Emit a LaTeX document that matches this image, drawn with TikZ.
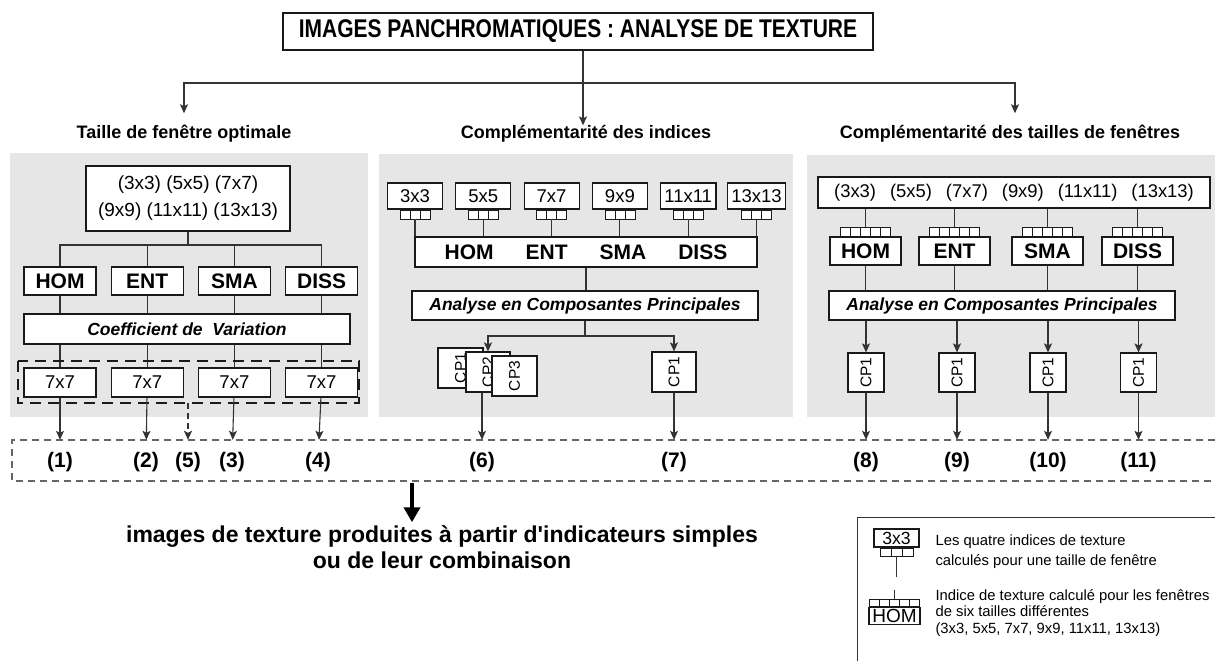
\documentclass[tikz,border=0pt]{standalone}
\usepackage{fontspec}
\usepackage{graphicx}
\setmainfont{Liberation Sans}
\newfontfamily\etroite[FakeStretch=0.82]{Liberation Sans}
\usetikzlibrary{positioning,arrows.meta}
\definecolor{fond}{HTML}{E6E6E6}
\definecolor{trait}{HTML}{333333}
\definecolor{tiret}{HTML}{666666}

\begin{document}
\begin{tikzpicture}[x=1pt, y=-1pt, node distance=14pt,
    boite/.style={draw=black!90, fill=white, line width=1.2pt, inner sep=0pt},
    indice/.style={boite, font=\bfseries\fontsize{21}{25}\selectfont, minimum width=72pt, minimum height=28pt},
    taille/.style={boite, font=\fontsize{18.5}{22}\selectfont, minimum width=55pt, minimum height=26pt, inner xsep=4pt},
    fenetre/.style={boite, font=\fontsize{18.5}{22}\selectfont, minimum width=72pt, minimum height=29pt},
    acp/.style={boite, font=\bfseries\itshape\fontsize{17.5}{21}\selectfont, minimum width=346pt, minimum height=29pt},
    cp/.style={boite, font=\fontsize{15.5}{18}\selectfont},
    onglet/.style n args={2}{draw=black!90, fill=white, line width=0.8pt, inner sep=0pt,
      minimum width=#1*#2, minimum height=9pt,
      path picture={\foreach \k in {1,...,#1}{\draw[black!90, line width=0.8pt]
        ([xshift=\k*#2]path picture bounding box.south west) -- ([xshift=\k*#2]path picture bounding box.north west);}}},
    titre/.style={font=\bfseries\fontsize{18}{22}\selectfont, inner sep=0pt},
    num/.style={font=\bfseries\fontsize{21}{24}\selectfont, minimum height=44pt, inner sep=0pt},
    lien/.style={draw=trait, line width=1.1pt},
    fleche/.style={lien, -{Stealth[length=9pt, width=8pt, inset=2pt]}},
  ]
    \useasboundingbox (0,0) rectangle (1215,661);

    % fonds gris
    \fill[fond] (10,153) rectangle (368,417);
    \fill[fond] (379,154) rectangle (793,417);
    \fill[fond] (807,155) rectangle (1215,417);

    % titre et trois approches
    \node[boite, line width=1.3pt, minimum width=590pt, minimum height=37pt,
      font=\etroite\bfseries\fontsize{25.6}{30}\selectfont] (titre) at (578,31.5) {IMAGES PANCHROMATIQUES : ANALYSE DE TEXTURE};
    \node[titre] (optimale) at (184,134) {Taille de fenêtre optimale};
    \node[titre] (indices) at (586,134) {Complémentarité des indices};
    \node[titre] (tailles) at (1010,134) {Complémentarité des tailles de fenêtres};

    \coordinate (fourche) at (583,83);
    \draw[lien] (titre.south -| fourche) -- (fourche);
    \draw[fleche] (fourche) -- (indices.north -| fourche);
    \draw[fleche] (fourche) -| ([yshift=12pt]optimale.north);
    \draw[fleche] (fourche) -| ([xshift=5pt, yshift=12pt]tailles.north);

    % taille de fenetre optimale
    \node[boite, align=center, minimum width=204pt, minimum height=65pt, font=\fontsize{19}{27}\selectfont] (dims1) at (188,198.5)
      {(3x3) (5x5) (7x7)\\(9x9) (11x11) (13x13)};
    \node[indice] (hom1) at (60,281) {HOM};
    \node[indice, right=of hom1] (ent1) {ENT};
    \node[indice, right=of ent1] (sma1) {SMA};
    \node[indice, right=of sma1] (diss1) {DISS};
    \node[boite, minimum width=326pt, minimum height=30pt, font=\bfseries\itshape\fontsize{17.5}{21}\selectfont] (cv) at (187,329)
      {Coefficient de\ \ Variation};
    \node[fenetre] (f1) at (60,382.5) {7x7};
    \node[fenetre, right=of f1] (f2) {7x7};
    \node[fenetre, right=of f2] (f3) {7x7};
    \node[fenetre, right=of f3] (f4) {7x7};

    \coordinate (rep1) at (188,245);
    \draw[lien] (dims1.south) -- (rep1);
    \draw[lien] (hom1.north) |- (rep1) -| (diss1.north);
    \draw[lien] (ent1.north) -- (ent1.north |- rep1);
    \draw[lien] (sma1.north) -- (sma1.north |- rep1);
    \draw[lien] (hom1.south) -- (cv.north -| hom1);
    \draw[lien] (ent1.south) -- (cv.north -| ent1);
    \draw[lien] (sma1.south) -- (cv.north -| sma1);
    \draw[lien] (diss1.south) -- (cv.north -| diss1);
    \draw[lien] (cv.south -| f1) -- (f1.north);
    \draw[lien] (cv.south -| f2) -- (f2.north);
    \draw[lien] (cv.south -| f3) -- (f3.north);
    \draw[lien] (cv.south -| f4) -- (f4.north);
    \draw[black!90, line width=2.4pt, dash pattern=on 11pt off 7pt] (18,361) rectangle (359,403);
    \coordinate (sortie5) at (188,403);

    % complementarite des indices
    \node[taille] (m3) at (415,196) {3x3};
    \node[taille] (m5) at (483.3,196) {5x5};
    \node[taille] (m7) at (551.6,196) {7x7};
    \node[taille] (m9) at (619.9,196) {9x9};
    \node[taille] (m11) at (688.2,196) {11x11};
    \node[taille] (m13) at (756.5,196) {13x13};
    \node[onglet={3}{10pt}, below=0pt of m3] (o3) {};
    \node[onglet={3}{10pt}, below=0pt of m5] (o5) {};
    \node[onglet={3}{10pt}, below=0pt of m7] (o7) {};
    \node[onglet={3}{10pt}, below=0pt of m9] (o9) {};
    \node[onglet={3}{10pt}, below=0pt of m11] (o11) {};
    \node[onglet={3}{10pt}, below=0pt of m13] (o13) {};
    \node[boite, minimum width=342pt, minimum height=30pt, font=\bfseries\fontsize{21}{25}\selectfont] (bande) at (586,252)
      {HOM\hspace{32pt}ENT\hspace{32pt}SMA\hspace{32pt}DISS};
    \draw[lien] (o3.south) -- (o3.south |- bande.north);
    \draw[lien] (o5.south) -- (o5.south |- bande.north);
    \draw[lien] (o7.south) -- (o7.south |- bande.north);
    \draw[lien] (o9.south) -- (o9.south |- bande.north);
    \draw[lien] (o11.south) -- (o11.south |- bande.north);
    \draw[lien] (o13.south) -- (o13.south |- bande.north);
    \node[acp] (acp2) at (585,305.5) {Analyse en Composantes Principales};
    \draw[lien] (bande.south) -- (bande.south |- acp2.north);

    \node[cp, minimum width=45pt, minimum height=40pt] (cpa) at (460.5,368) {\rotatebox{90}{CP1}\hspace{18pt}};
    \node[cp, minimum width=44pt, minimum height=40pt] (cpb) at (488,372) {\rotatebox{90}{CP2}\hspace{18pt}};
    \node[cp, minimum width=45pt, minimum height=40pt] (cpc) at (514.5,376) {\rotatebox{90}{CP3}\hspace{14pt}};
    \node[cp, minimum width=44pt, minimum height=40pt] (cp7) at (674,372) {\rotatebox{90}{CP1}\hspace{8pt}};
    \coordinate (rep2) at (585,336);
    \draw[lien] (acp2.south) -- (rep2);
    \draw[fleche] (rep2) -| (cpb.north);
    \draw[fleche] (rep2) -| (cp7.north);

    % complementarite des tailles de fenetres
    \node[boite, minimum width=392pt, minimum height=31pt, font=\fontsize{18.4}{22}\selectfont] (dims3) at (1014,192.5)
      {(3x3)\hspace{14pt}(5x5)\hspace{14pt}(7x7)\hspace{14pt}(9x9)\hspace{14pt}(11x11)\hspace{14pt}(13x13)};
    \node[indice, minimum width=71pt] (hom3) at (865.5,251) {HOM};
    \node[indice, minimum width=71pt] (ent3) at (954.5,251) {ENT};
    \node[indice, minimum width=71pt] (sma3) at (1047.5,251) {SMA};
    \node[indice, minimum width=71pt] (diss3) at (1137.5,251) {DISS};
    \node[onglet={5}{10pt}, above=0pt of hom3] (oh) {};
    \node[onglet={5}{10pt}, above=0pt of ent3] (oe) {};
    \node[onglet={5}{10pt}, above=0pt of sma3] (os) {};
    \node[onglet={5}{10pt}, above=0pt of diss3] (od) {};
    \draw[lien] (dims3.south -| oh) -- (oh.north);
    \draw[lien] (dims3.south -| oe) -- (oe.north);
    \draw[lien] (dims3.south -| os) -- (os.north);
    \draw[lien] (dims3.south -| od) -- (od.north);
    \node[acp] (acp3) at (1002,305.5) {Analyse en Composantes Principales};
    \draw[lien] (hom3.south) -- (hom3.south |- acp3.north);
    \draw[lien] (ent3.south) -- (ent3.south |- acp3.north);
    \draw[lien] (sma3.south) -- (sma3.south |- acp3.north);
    \draw[lien] (diss3.south) -- (diss3.south |- acp3.north);
    \node[cp, minimum width=36pt, minimum height=39pt] (cp8) at (866,372.5) {\rotatebox{90}{CP1}};
    \node[cp, minimum width=36pt, minimum height=39pt] (cp9) at (957,372.5) {\rotatebox{90}{CP1}};
    \node[cp, minimum width=36pt, minimum height=39pt] (cp10) at (1048,372.5) {\rotatebox{90}{CP1}};
    \node[cp, minimum width=36pt, minimum height=39pt] (cp11) at (1138.5,372.5) {\rotatebox{90}{CP1}};
    \draw[fleche] (acp3.south -| cp8) -- (cp8);
    \draw[fleche] (acp3.south -| cp9) -- (cp9);
    \draw[fleche] (acp3.south -| cp10) -- (cp10);
    \draw[fleche] (acp3.south -| cp11) -- (cp11);

    % images produites
    \draw[tiret, line width=1.2pt, dash pattern=on 7pt off 5pt] (1215,440) -| (12,481) -- (1215,481);
    \node[num] (n1) at (60,462) {(1)};
    \node[num] (n2) at (146,462) {(2)};
    \node[num] (n5) at (188,462) {(5)};
    \node[num] (n3) at (232,462) {(3)};
    \node[num] (n4) at (318,462) {(4)};
    \node[num] (n6) at (482,462) {(6)};
    \node[num] (n7) at (674,462) {(7)};
    \node[num] (n8) at (866,462) {(8)};
    \node[num] (n9) at (957,462) {(9)};
    \node[num] (n10) at (1048,462) {(10)};
    \node[num] (n11) at (1138.5,462) {(11)};
    \draw[fleche] (f1) -- (n1);
    \draw[fleche] (f2) -- (n2);
    \draw[fleche] (f3) -- (n3);
    \draw[fleche] (f4) -- (n4);
    \draw[fleche, line width=1.6pt, dash pattern=on 6pt off 4pt] (sortie5) -- (n5);
    \draw[fleche] (cpb.south -| n6) -- (n6);
    \draw[fleche] (cp7) -- (n7);
    \draw[fleche] (cp8) -- (n8);
    \draw[fleche] (cp9) -- (n9);
    \draw[fleche] (cp10) -- (n10);
    \draw[fleche] (cp11) -- (n11);

    \coordinate (sortie) at (412,483);
    \node[align=center, inner sep=3pt, font=\bfseries\fontsize{23}{26}\selectfont] (resultat) at (442,547)
      {images de texture produites à partir d\textquotesingle indicateurs simples\\ou de leur combinaison};
    \draw[line width=4.5pt, -{Triangle[length=15pt, width=16pt]}] (sortie) -- (sortie |- resultat.north);

    % legende
    \draw[lien, line width=1pt] (1215,517) -| (857,661);
    \node[boite, minimum width=45pt, minimum height=18pt, font=\fontsize{17.6}{20}\selectfont] (leg1) at (896.5,538) {3x3};
    \node[onglet={3}{11pt}, minimum height=8pt, below=0pt of leg1] (lego1) {};
    \coordinate (fin1) at (896.5,577);
    \draw[lien] (lego1.south) -- (fin1);
    \node[boite, minimum width=51pt, minimum height=17pt, font=\fontsize{19}{22}\selectfont] (leg2) at (894.5,616) {HOM};
    \node[onglet={5}{10pt}, minimum height=7pt, above=0pt of leg2] (lego2) {};
    \coordinate (debut2) at (894.5,590);
    \draw[lien] (debut2) -- (lego2.north);
    \node[anchor=west, align=left, font=\fontsize{14.8}{20}\selectfont] (texte1) at (932,552)
      {Les quatre indices de texture\\calculés pour une taille de fenêtre};
    \node[anchor=west, align=left, font=\fontsize{14.8}{16.5}\selectfont] (texte2) at (932,613)
      {Indice de texture calculé pour les fenêtres\\de six tailles différentes\\(3x3, 5x5, 7x7, 9x9, 11x11, 13x13)};
\end{tikzpicture}
\end{document}
